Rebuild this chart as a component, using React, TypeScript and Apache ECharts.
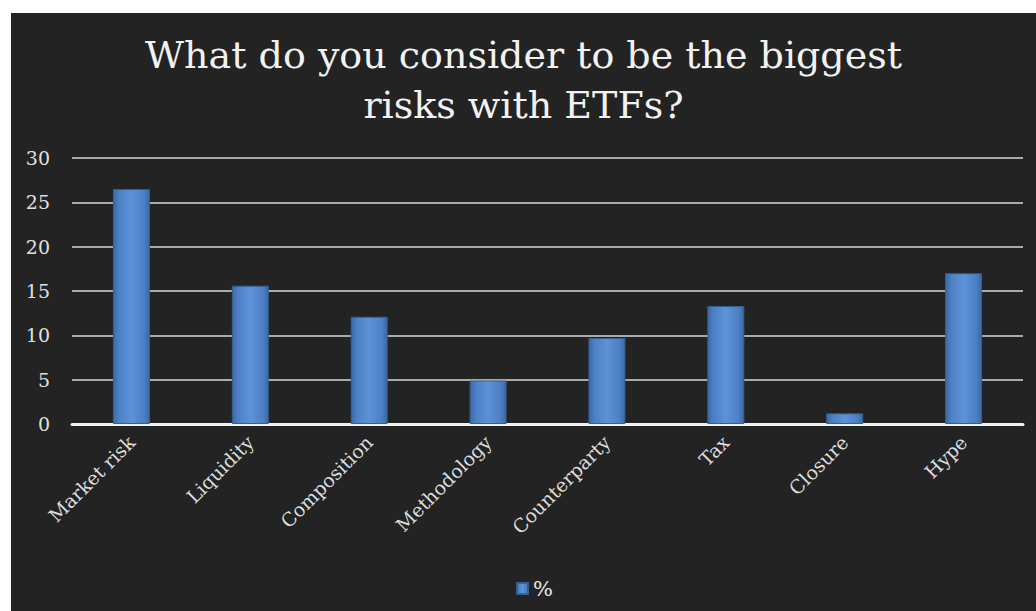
import React, { useEffect, useRef } from "react";
import * as echarts from "echarts";

const categories = ["Market risk", "Liquidity", "Composition", "Methodology", "Counterparty", "Tax", "Closure", "Hype"];
const values = [26.5, 15.6, 12.1, 4.9, 9.7, 13.3, 1.2, 17.0];
const seriesName = "%";
const titleText = "What do you consider to be the biggest\nrisks with ETFs?";

const FONT = "'DejaVu Serif', serif";

export default function App() {
  const ref = useRef<HTMLDivElement>(null);
  useEffect(() => {
    if (!ref.current) return;
    const chart = echarts.init(ref.current, null, { renderer: "svg" });
    const barColor = new echarts.graphic.LinearGradient(0, 0, 1, 0, [
      { offset: 0, color: "#3a69a6" },
      { offset: 0.15, color: "#4c7fc4" },
      { offset: 0.5, color: "#5e92d6" },
      { offset: 0.85, color: "#4c7fc4" },
      { offset: 1, color: "#3a69a6" },
    ]);
    chart.setOption({
      animation: false,
      backgroundColor: "#232323",
      title: {
        text: titleText,
        left: "center",
        top: 12,
        textStyle: {
          color: "#f2f2f2",
          fontFamily: FONT,
          fontSize: 38,
          fontWeight: "normal",
          lineHeight: 50,
        },
      },
      legend: {
        bottom: 7,
        left: 500,
        itemWidth: 11,
        itemHeight: 11,
        itemGap: 5,
        icon: "rect",
        textStyle: { color: "#e6e6e6", fontFamily: FONT, fontSize: 21 },
        data: [seriesName],
      },
      grid: { left: 61, right: 13, top: 145, bottom: 187, containLabel: false },
      xAxis: {
        type: "category",
        data: categories,
        axisLine: { show: true, lineStyle: { color: "#f2f2f2", width: 3 } },
        axisTick: { show: false },
        axisLabel: {
          rotate: 45,
          interval: 0,
          color: "#dcdcdc",
          fontFamily: FONT,
          fontSize: 19,
          margin: 15,
        },
      },
      yAxis: {
        type: "value",
        min: 0,
        max: 30,
        interval: 5,
        axisLine: { show: false },
        axisTick: { show: false },
        axisLabel: { color: "#e0e0e0", fontFamily: FONT, fontSize: 19, margin: 22 },
        splitLine: { lineStyle: { color: "#d9d9d9", width: 1.5 } },
      },
      series: [
        {
          name: seriesName,
          type: "bar",
          data: values,
          barWidth: 37,
          itemStyle: { color: barColor, borderColor: "#35608f", borderWidth: 1 },
        },
      ],
    });
    return () => chart.dispose();
  }, []);
  return (
    <div
      ref={ref}
      style={{ position: "absolute", left: 11, top: 13, width: 1025, height: 598 }}
    />
  );
}
